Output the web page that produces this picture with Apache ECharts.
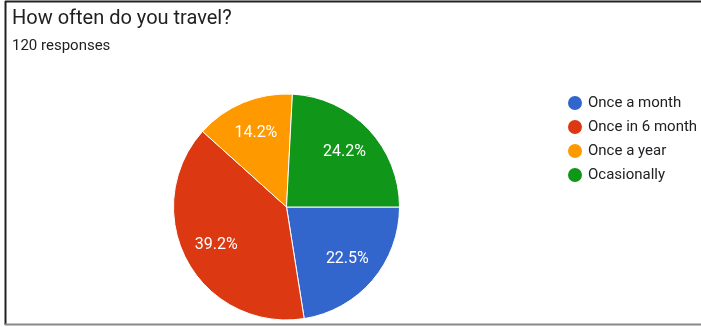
<!DOCTYPE html>
<html>
<head>
<meta charset="utf-8">
<script src="https://cdn.jsdelivr.net/npm/echarts@6/dist/echarts.min.js"></script>
<style>
  html, body { margin: 0; padding: 0; background: #fff; }
  #chart { width: 701px; height: 327px; }
</style>
</head>
<body>
<div id="chart"></div>
<script>
// Survey answers: "How often do you travel?" (120 responses)
const categories = ['Once a month', 'Once in 6 month', 'Once a year', 'Ocasionally'];
const responses = [27, 47, 17, 29];
const colors = ['#3366cc', '#dc3912', '#ff9900', '#109618'];
const titleText = 'How often do you travel?';
const subtitleText = '120 responses';

const sliceData = categories.map((name, i) => ({
  name: name,
  value: responses[i],
  itemStyle: { color: colors[i] }
}));

// Ring used only to place the percentage labels further out from the centre
const labelData = categories.map((name, i) => ({
  name: name,
  value: responses[i],
  itemStyle: { color: 'rgba(0,0,0,0)' }
}));

const chart = echarts.init(document.getElementById('chart'), null, { renderer: 'canvas' });

chart.setOption({
  animation: false,
  backgroundColor: '#ffffff',
  textStyle: { fontFamily: 'Roboto, Arial, sans-serif' },
  title: [
    {
      text: titleText,
      left: 7, top: 4,
      textStyle: { fontSize: 20, fontWeight: 'normal', color: '#202124', fontFamily: 'Roboto' }
    },
    {
      text: subtitleText,
      left: 7, top: 34,
      textStyle: { fontSize: 15, fontWeight: 'normal', color: '#202124', fontFamily: 'Roboto' }
    }
  ],
  legend: {
    orient: 'vertical',
    left: 561, top: 89,
    icon: 'circle',
    itemWidth: 16, itemHeight: 16,
    itemGap: 6,
    textStyle: { fontSize: 15, color: '#202124', fontFamily: 'Roboto' },
    data: categories.map((name, i) => ({ name: name, itemStyle: { color: colors[i] } }))
  },
  graphic: [
    { type: 'line', shape: { x1: 5, y1: 1.5, x2: 701, y2: 1.5 }, style: { stroke: '#222', lineWidth: 2 } },
    { type: 'line', shape: { x1: 5.5, y1: 1, x2: 5.5, y2: 325 }, style: { stroke: '#222', lineWidth: 2 } },
    { type: 'line', shape: { x1: 5, y1: 324.5, x2: 701, y2: 324.5 }, style: { stroke: '#888', lineWidth: 2 } }
  ],
  series: [
    {
      type: 'pie',
      center: [286.5, 207],
      radius: [0, 113],
      startAngle: 0,
      clockwise: true,
      label: { show: false },
      labelLine: { show: false },
      itemStyle: { borderColor: '#ffffff', borderWidth: 1 },
      emphasis: { disabled: true },
      data: sliceData
    },
    {
      type: 'pie',
      center: [286.5, 207],
      radius: [41, 113],
      startAngle: 0,
      clockwise: true,
      silent: true,
      z: 3,
      label: {
        show: true,
        position: 'inside',
        color: '#ffffff',
        fontSize: 16,
        fontFamily: 'Roboto',
        formatter: p => p.percent.toFixed(1) + '%'
      },
      labelLine: { show: false },
      emphasis: { disabled: true },
      data: labelData
    }
  ]
});
</script>
</body>
</html>
